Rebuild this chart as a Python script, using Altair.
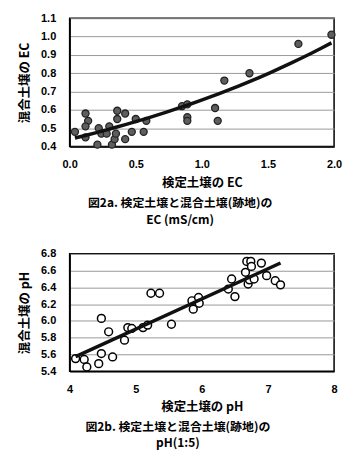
import altair as alt
import pandas as pd

# Figure 2a: EC
ec_x = [0.04, 0.12, 0.12, 0.14, 0.12, 0.21, 0.22, 0.24, 0.28, 0.30,
        0.32, 0.34, 0.35, 0.36, 0.36, 0.42, 0.42, 0.47, 0.50, 0.56,
        0.58, 0.85, 0.89, 0.89, 0.89, 1.10, 1.12, 1.17, 1.36, 1.73, 1.98]
ec_y = [0.48, 0.45, 0.58, 0.54, 0.51, 0.41, 0.50, 0.47, 0.47, 0.51,
        0.41, 0.44, 0.47, 0.55, 0.595, 0.44, 0.58, 0.48, 0.55, 0.48,
        0.54, 0.62, 0.63, 0.56, 0.54, 0.61, 0.54, 0.76, 0.80, 0.96, 1.01]

# Figure 2b: pH
ph_x = [4.09, 4.22, 4.26, 4.44, 4.48, 4.48, 4.59, 4.65, 4.83, 4.88,
        4.94, 5.11, 5.18, 5.23, 5.36, 5.54, 5.85, 5.87, 5.95, 5.96,
        6.40, 6.45, 6.50, 6.66, 6.68, 6.74, 6.75, 6.70, 6.72, 6.79,
        6.90, 6.98, 7.11, 7.19]
ph_y = [5.55, 5.54, 5.45, 5.49, 5.61, 6.03, 5.87, 5.57, 5.77, 5.92,
        5.91, 5.92, 5.95, 6.33, 6.33, 5.96, 6.24, 6.14, 6.28, 6.21,
        6.38, 6.50, 6.29, 6.58, 6.71, 6.71, 6.65, 6.44, 6.49, 6.50,
        6.69, 6.54, 6.48, 6.43]

ec_ticks_x = [0.0, 0.5, 1.0, 1.5, 2.0]
ec_ticks_y = [0.4, 0.5, 0.6, 0.7, 0.8, 0.9, 1.0, 1.1]
ph_ticks_x = [4, 5, 6, 7, 8]
ph_ticks_y = [5.4, 5.6, 5.8, 6.0, 6.2, 6.4, 6.6, 6.8]

FONT = "Noto Sans CJK JP"
LFONT = "Liberation Sans"

ec_df = pd.DataFrame({"x": ec_x, "y": ec_y})
ph_df = pd.DataFrame({"x": ph_x, "y": ph_y})


def axis_x(title, ticks, fmt):
    return alt.Axis(title=title, values=ticks, format=fmt, grid=False, ticks=False,
                    labelOverlap=False, labelFlush=False,
                    labelPadding=12, titlePadding=7, domainColor="black", domainWidth=1.5,
                    labelFont=LFONT, labelFontWeight="bold", labelFontSize=11, labelColor="black",
                    titleFont=FONT, titleFontWeight="bold", titleFontSize=12.5, titleColor="black")


def axis_y(title, ticks, fmt):
    return alt.Axis(title=title, values=ticks, format=fmt, grid=True, gridColor="#999999",
                    gridWidth=1, ticks=False, labelPadding=14, titlePadding=9,
                    labelOverlap=False, labelFlush=False,
                    domainColor="black", domainWidth=1.5,
                    labelFont=LFONT, labelFontWeight="bold", labelFontSize=11, labelColor="black",
                    titleFont=FONT, titleFontWeight="bold", titleFontSize=12.5, titleColor="black")


ec_xs = alt.Scale(domain=[0, 2.0], nice=False, zero=False)
ec_ys = alt.Scale(domain=[0.4, 1.1], nice=False, zero=False)

ec_base = alt.Chart(ec_df).encode(
    x=alt.X("x:Q", scale=ec_xs, axis=axis_x("検定土壌の EC", ec_ticks_x, ".1f")),
    y=alt.Y("y:Q", scale=ec_ys, axis=axis_y("混合土壌の EC", ec_ticks_y, ".1f")),
)
ec_pts = ec_base.mark_point(
    shape="circle", filled=True, size=50, fill="#5e5e5e", stroke="#222222",
    strokeWidth=1.3, opacity=1
)
ec_line = ec_base.transform_regression("x", "y", method="exp").mark_line(
    color="#111111", strokeWidth=3.5
)

ec_chart = alt.layer(ec_pts, ec_line).properties(
    width=266, height=129,
    title=alt.TitleParams(
        text=["図2a. 検定土壌と混合土壌(跡地)の", "EC (mS/cm)"],
        orient="bottom", anchor="middle", frame="bounds", font=FONT, fontSize=12,
        fontWeight="bold", color="black", lineHeight=17, offset=9, baseline="top"),
)

ph_xs = alt.Scale(domain=[4, 8], nice=False, zero=False)
ph_ys = alt.Scale(domain=[5.4, 6.8], nice=False, zero=False)

ph_base = alt.Chart(ph_df).encode(
    x=alt.X("x:Q", scale=ph_xs, axis=axis_x("検定土壌の pH", ph_ticks_x, "d")),
    y=alt.Y("y:Q", scale=ph_ys, axis=axis_y("混合土壌の pH", ph_ticks_y, ".1f")),
)
ph_pts = ph_base.mark_point(
    shape="circle", filled=False, size=62, stroke="black", fill="white",
    strokeWidth=1.5, opacity=1, fillOpacity=1
)
ph_line = ph_base.transform_regression("x", "y").mark_line(
    color="#111111", strokeWidth=3.5
)

ph_chart = alt.layer(ph_pts, ph_line).properties(
    width=266, height=118,
    title=alt.TitleParams(
        text=["図2b. 検定土壌と混合土壌(跡地)の", "pH(1:5)"],
        orient="bottom", anchor="middle", frame="bounds", font=FONT, fontSize=12,
        fontWeight="bold", color="black", lineHeight=16, offset=9, baseline="top"),
)

chart = alt.vconcat(ec_chart, ph_chart, spacing=20).properties(
    padding={"left": 9, "top": 2, "right": 5, "bottom": 2},
    background="white",
).configure_view(stroke="black", strokeWidth=1.5)

chart.save("out.html", embed_options={"renderer": "svg", "actions": False})
